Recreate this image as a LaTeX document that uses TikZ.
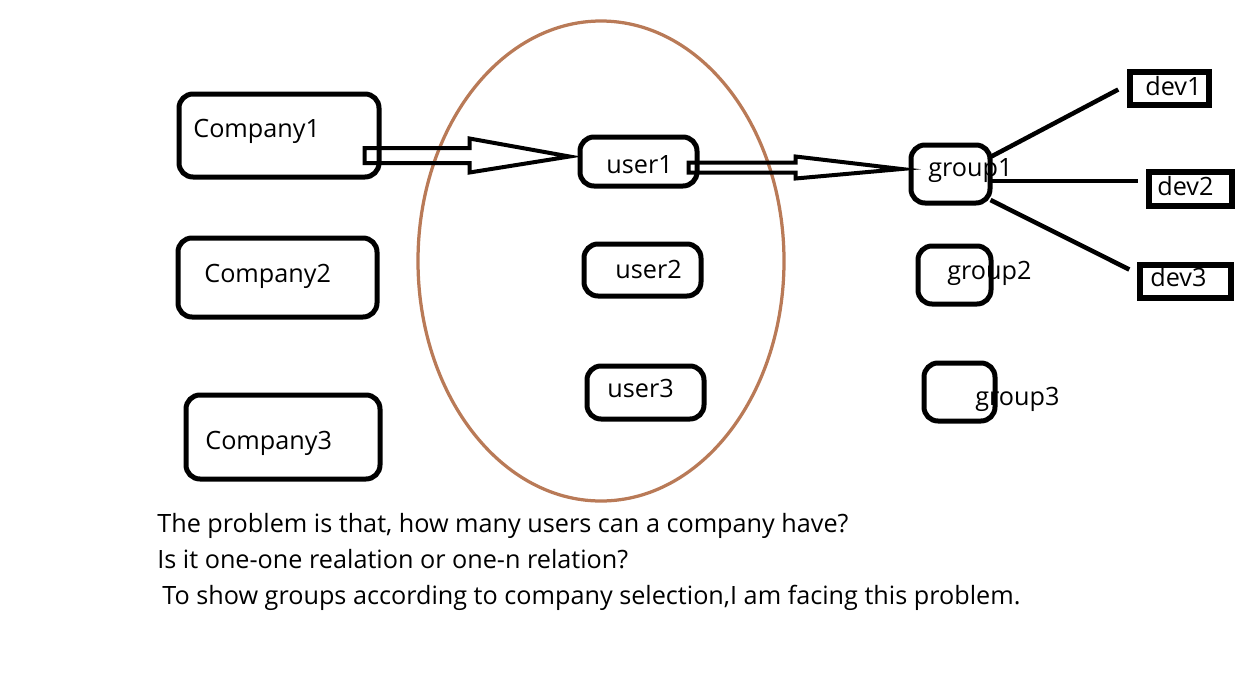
\documentclass[tikz,border=0pt]{standalone}
\usepackage{fontspec}
\setmainfont{Open Sans}
\usetikzlibrary{fit,calc}
\definecolor{ringbrown}{RGB}{185,122,87}
\tikzset{
  rbox/.style={draw=black, line width=0.1cm, rounded corners=0.28cm, inner sep=0pt},
  devbox/.style={draw=black, line width=0.11cm, inner sep=0pt},
  lbl/.style={anchor=base west, inner sep=0pt, font=\fontsize{14.35pt}{17pt}\selectfont},
  link/.style={line width=0.09cm},
  hollow/.style={draw=black, line width=0.08cm, line join=miter},
  ring/.style={draw=ringbrown, line width=0.065cm}
}
\begin{document}
\begin{tikzpicture}[x=0.02cm, y=-0.02cm]
\useasboundingbox (0,0) rectangle (1258,677);

% the users
\draw[ring] (601,261) ellipse [x radius=183, y radius=240];

% companies
\node (comp1) [rbox, fit={(179,94) (379,177)}] {};
\node (comp2) [rbox, fit={(178,238) (377,317)}] {};
\node (comp3) [rbox, fit={(186,395) (380,479)}] {};
\node (comp1txt) [lbl] at (193,137) {Company1};
\node (comp2txt) [lbl] at (204,282) {Company2};
\node (comp3txt) [lbl] at (205,449) {Company3};

% users
\node (user1) [rbox, fit={(580,137) (697,186)}] {};
\node (user2) [rbox, fit={(584,244) (701,296)}] {};
\node (user3) [rbox, fit={(587,366) (704,419)}] {};
\node (user1txt) [lbl] at (606,173) {user1};
\node (user2txt) [lbl] at (615,278) {user2};
\node (user3txt) [lbl] at (607,397) {user3};

% groups
\node (group1) [rbox, fit={(911,145) (990,203)}] {};
\node (group2) [rbox, fit={(918,246) (991,304)}] {};
\node (group3) [rbox, fit={(924,363) (995,421)}] {};
\node (group1txt) [lbl] at (928,176) {group1};
\node (group2txt) [lbl] at (947,279) {group2};
\node (group3txt) [lbl] at (975,405) {group3};

% devices
\node (dev1) [devbox, fit={(1130,72) (1209,105)}] {};
\node (dev2) [devbox, fit={(1149,172) (1232,206)}] {};
\node (dev3) [devbox, fit={(1140,265) (1231,298)}] {};
\node (dev1txt) [lbl] at (1145,95) {dev1};
\node (dev2txt) [lbl] at (1157,195) {dev2};
\node (dev3txt) [lbl] at (1150,286) {dev3};

% company -> user
\coordinate (a1) at ($(comp1.east)+(-17,20)$);
\coordinate (b1) at ($(user1.west)+(-8,-5)$);
\draw[hollow] ($(a1)+(0,-7.5)$) -- ($(a1)+(105,-7.5)$) -- ($(a1)+(105,-17)$)
  -- (b1) -- ($(a1)+(105,17)$) -- ($(a1)+(105,7.5)$) -- ($(a1)+(0,7.5)$) -- cycle;

% user -> group
\coordinate (a2) at ($(user1.east)+(-11,6)$);
\coordinate (b2) at ($(group1.west)+(-7,-5)$);
\draw[hollow] ($(a2)+(0,-5)$) -- ($(a2)+(107,-5)$) -- ($(a2)+(107,-11)$)
  -- (b2) -- ($(a2)+(107,11)$) -- ($(a2)+(107,5)$) -- ($(a2)+(0,5)$) -- cycle;

% group -> devices
\draw[link] ($(group1.east)+(-4,-16)$) -- ($(dev1.west)+(-9,1)$);
\draw[link] ($(group1.east)+(-4,7)$) -- ($(dev2.west)+(-8,-8)$);
\draw[link] ($(group1.east)+(-2,26)$) -- ($(dev3.west)+(-8,-12)$);

% question
\node (line1) [lbl] at (157,532) {The problem is that, how many users can a company have?};
\node (line2) [lbl] at (157,568) {Is it one-one realation or one-n relation?};
\node (line3) [lbl] at (162,604) {To show groups according to company selection,I am facing this problem.};
\end{tikzpicture}
\end{document}
